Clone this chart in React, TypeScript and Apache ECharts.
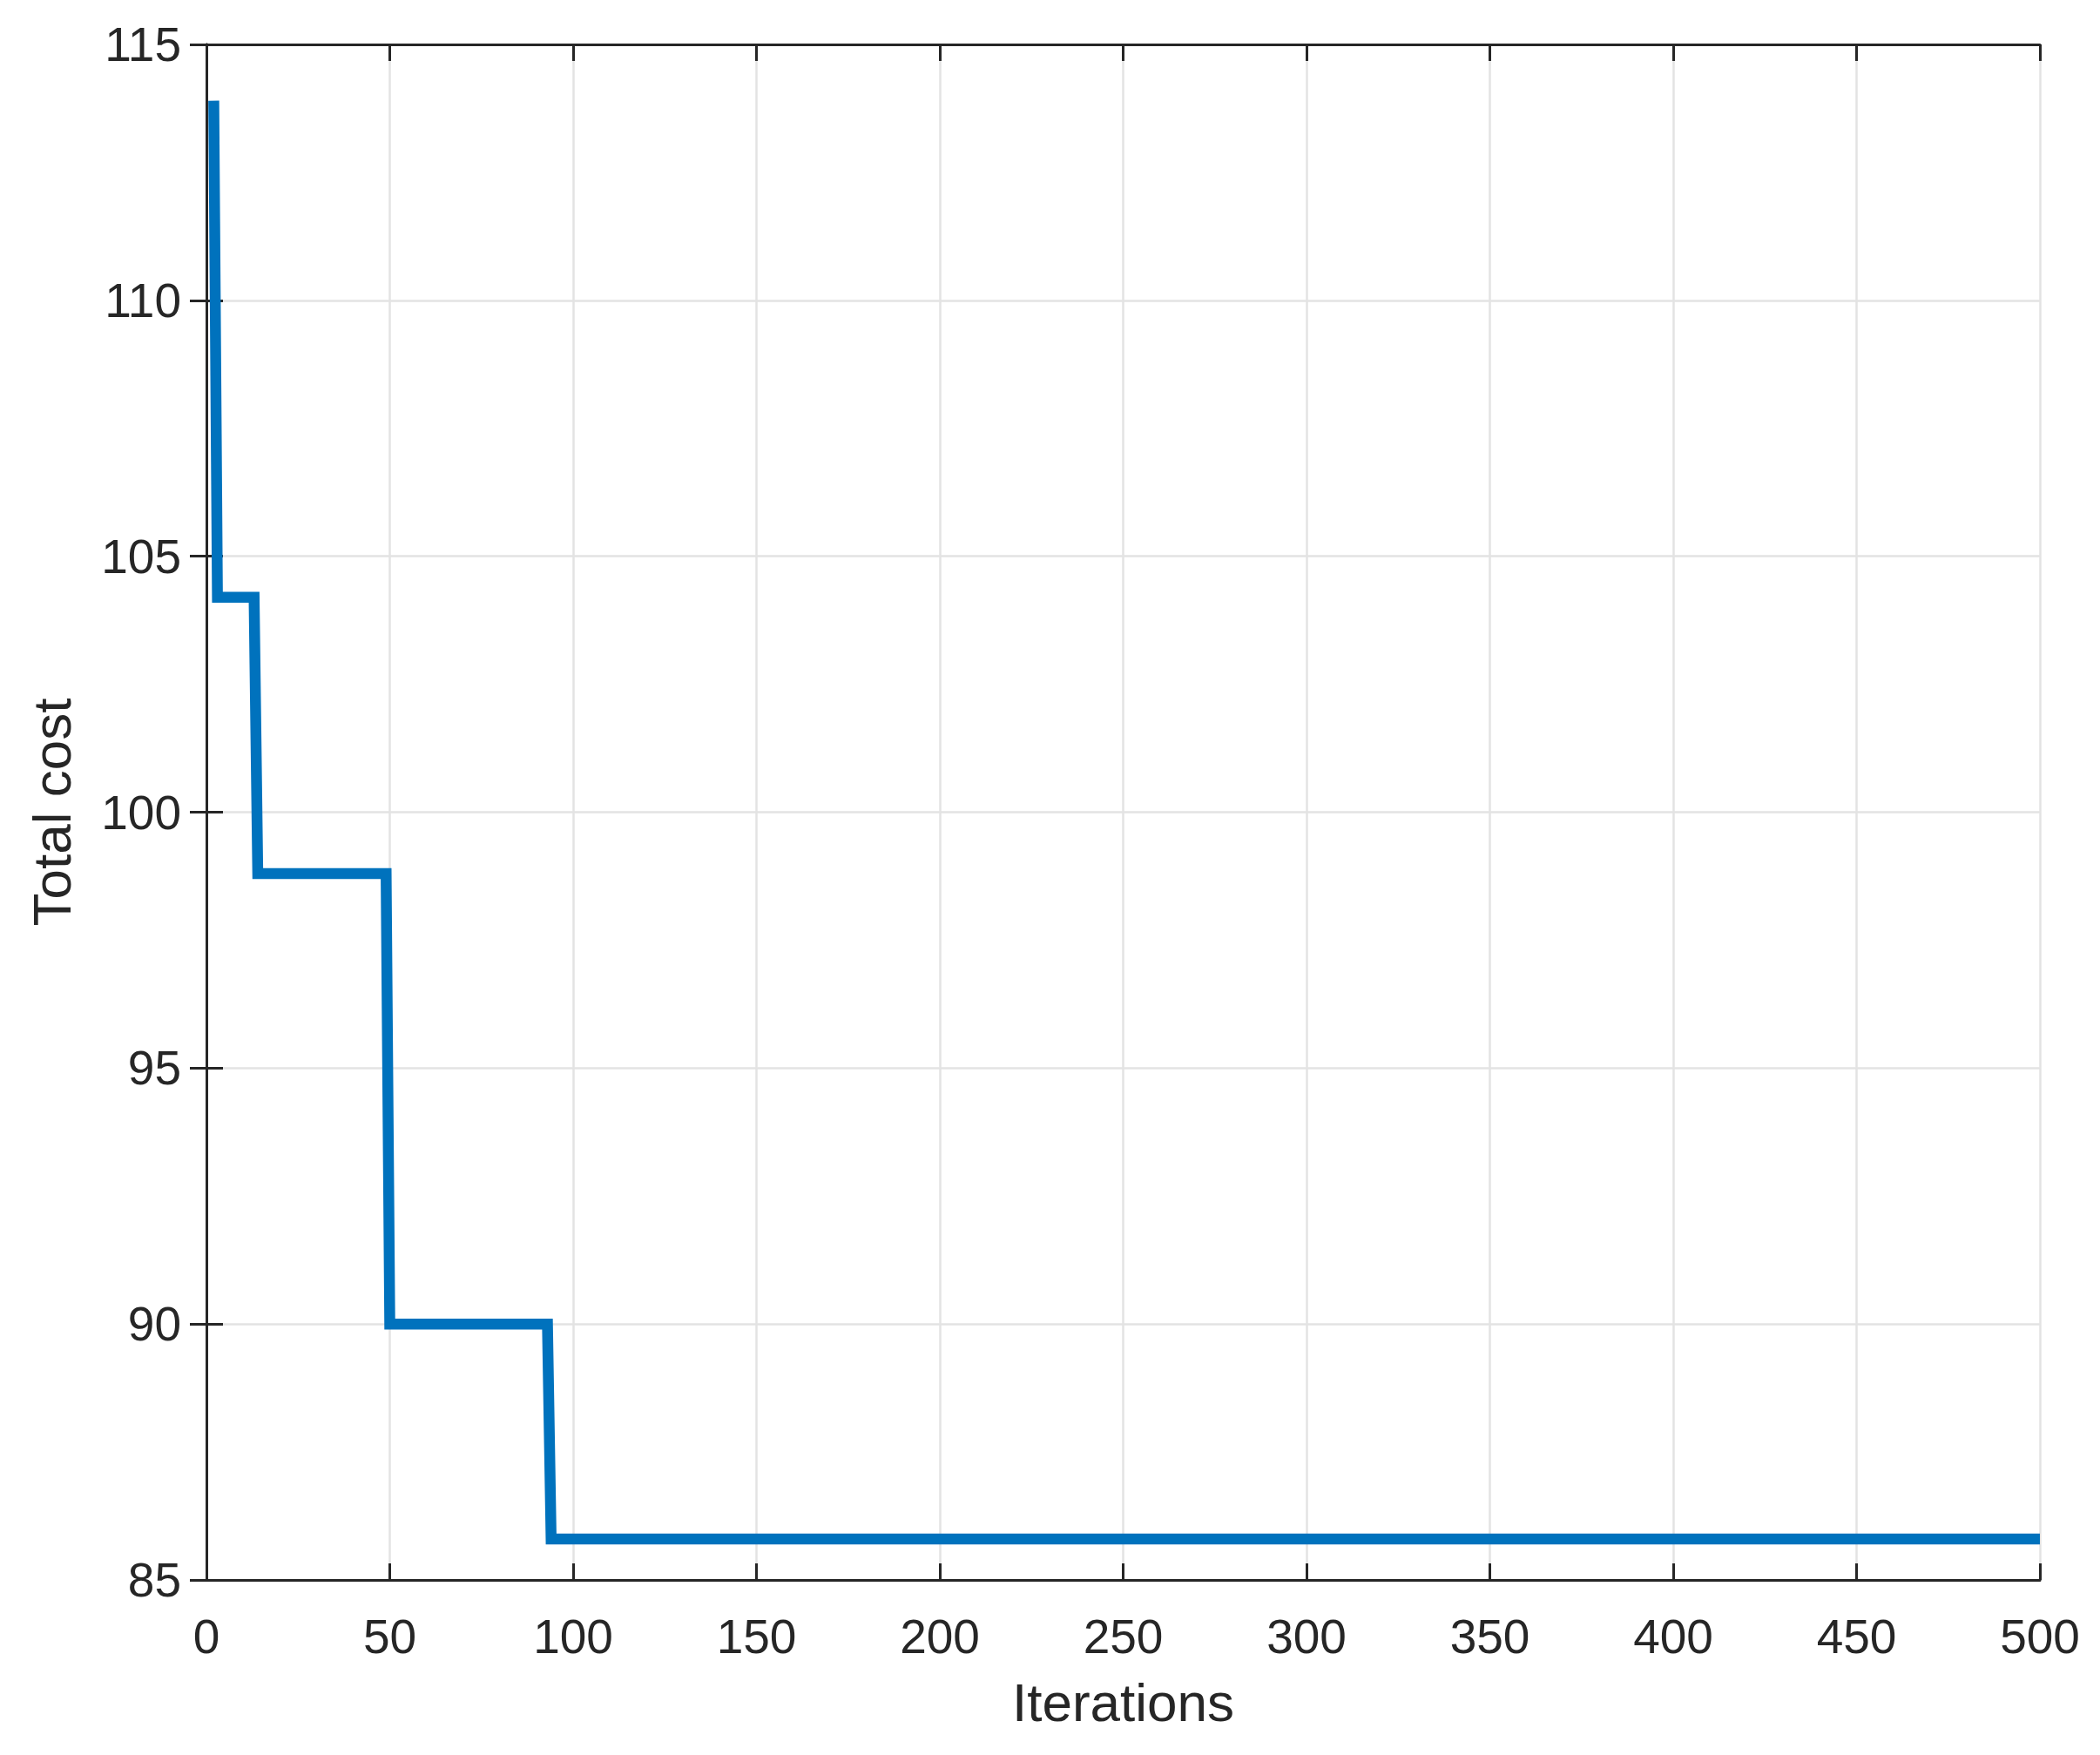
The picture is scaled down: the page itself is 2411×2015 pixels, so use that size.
import React, { useEffect, useRef } from "react";
import * as echarts from "echarts";

const iterations = [2, 3, 13, 14, 49, 50, 93, 94, 500];
const totalCost = [113.9, 104.2, 104.2, 98.8, 98.8, 90.0, 90.0, 85.8, 85.8];

const xTicks = { min: 0, max: 500, interval: 50 };
const yTicks = { min: 85, max: 115, interval: 5 };

const FONT = "'Liberation Sans', Arial, sans-serif";
const AXIS_COLOR = "#262626";
const GRID_COLOR = "#e3e3e3";
const LINE_COLOR = "#0072BD";

export default function App() {
  const ref = useRef<HTMLDivElement>(null);

  useEffect(() => {
    document.body.style.margin = "0";
    const chart = echarts.init(ref.current!, null, { renderer: "svg" });
    const data = iterations.map((x, i) => [x, totalCost[i]]);
    const axisLine = { show: true, lineStyle: { color: AXIS_COLOR, width: 3 } };
    const tick = { show: true, inside: true, length: 19, lineStyle: { color: AXIS_COLOR, width: 3 } };
    chart.setOption({
      animation: false,
      backgroundColor: "#ffffff",
      grid: { left: 237, right: 69, top: 51, bottom: 201, containLabel: false },
      xAxis: [
        {
          type: "value",
          position: "bottom",
          min: xTicks.min,
          max: xTicks.max,
          interval: xTicks.interval,
          name: "Iterations",
          nameLocation: "middle",
          nameGap: 109,
          nameTextStyle: { fontSize: 62, color: AXIS_COLOR, fontFamily: FONT },
          axisLine,
          axisTick: tick,
          axisLabel: { fontSize: 55, color: AXIS_COLOR, fontFamily: FONT, margin: 37 },
          splitLine: { show: true, lineStyle: { color: GRID_COLOR, width: 2.5 } },
        },
        {
          type: "value",
          position: "top",
          min: xTicks.min,
          max: xTicks.max,
          interval: xTicks.interval,
          axisLine,
          axisTick: tick,
          axisLabel: { show: false },
          splitLine: { show: false },
        },
      ],
      yAxis: [
        {
          type: "value",
          position: "left",
          min: yTicks.min,
          max: yTicks.max,
          interval: yTicks.interval,
          name: "Total cost",
          nameLocation: "middle",
          nameGap: 147,
          nameTextStyle: { fontSize: 62, color: AXIS_COLOR, fontFamily: FONT },
          axisLine,
          axisTick: tick,
          axisLabel: { fontSize: 55, color: AXIS_COLOR, fontFamily: FONT, margin: 29, padding: [8, 0, 0, 0] },
          splitLine: { show: true, lineStyle: { color: GRID_COLOR, width: 2.5 } },
        },
        {
          type: "value",
          position: "right",
          min: yTicks.min,
          max: yTicks.max,
          interval: yTicks.interval,
          axisLine,
          axisTick: tick,
          axisLabel: { show: false },
          splitLine: { show: false },
        },
      ],
      series: [
        {
          type: "line",
          xAxisIndex: 0,
          yAxisIndex: 0,
          data,
          showSymbol: false,
          symbol: "none",
          clip: true,
          lineStyle: { color: LINE_COLOR, width: 12.5, cap: "butt", join: "miter" },
        },
      ],
    });
    return () => chart.dispose();
  }, []);

  return <div ref={ref} style={{ width: 2411, height: 2015 }} />;
}
